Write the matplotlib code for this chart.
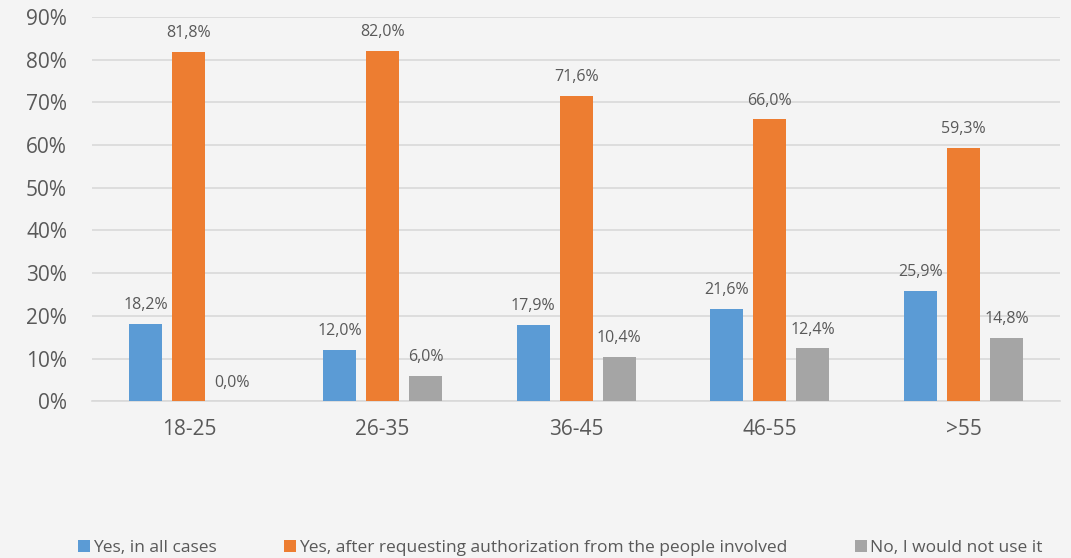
import matplotlib
matplotlib.use("Agg")
import matplotlib.pyplot as plt
import numpy as np

plt.rcParams['font.family'] = ['Open Sans', 'DejaVu Sans']

# Datos
categorias = ["18-25", "26-35", "36-45", "46-55", ">55"]
si_siempre = [18.2, 12.0, 17.9, 21.6, 25.9]
si_autorizacion = [81.8, 82.0, 71.6, 66.0, 59.3]
no_usaria = [0.0, 6.0, 10.4, 12.4, 14.8]
series_nombres = ["Yes, in all cases",
                  "Yes, after requesting authorization from the people involved",
                  "No, I would not use it"]
colores = ["#5b9bd5", "#ed7d31", "#a5a5a5"]
texto = "#595959"
fondo = "#f4f4f4"

fig = plt.figure(figsize=(10.71, 5.58), dpi=100, facecolor=fondo)
ax = fig.add_axes([0.086, 0.281, 0.904, 0.6885], facecolor=fondo)

x = np.arange(len(categorias))
ancho = 0.17
paso = 0.222
for i, (serie, nombre) in enumerate(zip([si_siempre, si_autorizacion, no_usaria], series_nombres)):
    pos = x + (i - 1) * paso
    ax.bar(pos, serie, width=ancho, color=colores[i], label=nombre, zorder=3)
    for xb, v in zip(pos, serie):
        ax.text(xb, v + 2.5, f"{v:.1f}%".replace(".", ","), ha="center", va="bottom",
                fontsize=11.5, color=texto)

ax.set_xlim(-0.5, len(categorias) - 0.5)
ax.set_ylim(0, 90)
ax.set_yticks(np.arange(0, 91, 10))
ax.set_yticklabels([f"{v}%" for v in range(0, 91, 10)])
ax.set_xticks(x)
ax.set_xticklabels(categorias)
ax.tick_params(axis="both", length=0, labelsize=15, colors=texto)
ax.tick_params(axis="x", pad=13)
ax.tick_params(axis="y", pad=18)
ax.grid(axis="y", color="#d9d9d9", linewidth=1.2, zorder=0)
for lado in ["top", "right", "left"]:
    ax.spines[lado].set_visible(False)
ax.spines["bottom"].set_color("#d9d9d9")
ax.spines["bottom"].set_linewidth(1.2)

fig.legend(loc="center", bbox_to_anchor=(0.523, 0.018), ncol=3, frameon=False,
           fontsize=12.5, labelcolor=texto, handlelength=0.7, handleheight=0.7,
           handletextpad=0.2, columnspacing=3.85)

fig.savefig("out.png", dpi=100, facecolor=fondo)
